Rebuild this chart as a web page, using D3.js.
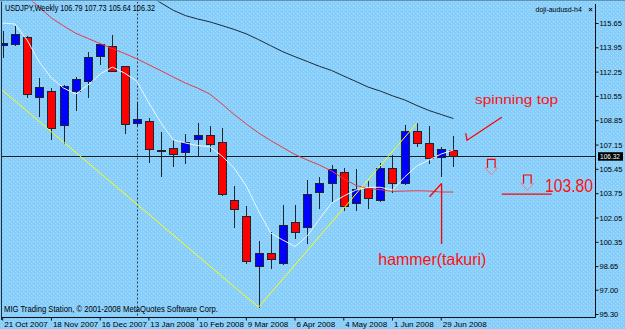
<!DOCTYPE html>
<html>
<head>
<meta charset="utf-8">
<script src="https://cdn.jsdelivr.net/npm/d3@7"></script>
<style>
  html, body { margin: 0; padding: 0; background: #87cefa; }
  svg { display: block; }
  .small { font-family: "Liberation Sans Narrow", "Liberation Sans", Arial, sans-serif; font-size: 8px; fill: #000; }
  .note { font-family: "Liberation Sans", Arial, sans-serif; fill: #ff1010; }
</style>
</head>
<body>
<div id="chart"></div>
<script>
//////////////////////////////////////////////////////////////////////////////
// Data (weekly USDJPY)

var header = "USDJPY,Weekly  106.79 107.73 105.64 106.32";
var expertName = "doji-audusd-h4";
var copyright = "MIG Trading Station, \u00a9 2001-2008 MetaQuotes Software Corp.";

var tickWeeks  = [0, 4, 8, 12, 16, 20, 24, 28, 32, 36];
var tickLabels = ["21 Oct 2007", "18 Nov 2007", "16 Dec 2007", "13 Jan 2008", "10 Feb 2008",
                  "9 Mar 2008", "6 Apr 2008", "4 May 2008", "1 Jun 2008", "29 Jun 2008"];

var priceTicks = [95.30, 97.00, 98.65, 100.35, 102.05, 103.75, 105.45,
                  107.15, 108.85, 110.55, 112.25, 113.95, 115.65];

var opens  = [114.09, 114.16, 114.65, 110.50, 110.90, 108.52, 110.90, 111.60, 113.34, 114.06,
              112.64, 108.68, 108.80, 106.80, 106.89, 106.61, 107.52, 107.82, 107.31, 103.27,
              102.15,  98.68,  99.54,  98.85, 101.71, 101.36, 103.85, 104.44, 105.25, 103.08,
              104.09, 103.27, 105.49, 104.48, 108.10, 107.24, 106.26, 106.79];
var highs  = [115.09, 115.45, 114.75, 111.78, 111.10, 111.30, 111.90, 113.64, 114.20, 114.80,
              112.64, 110.14, 108.99, 108.00, 107.47, 107.87, 108.68, 108.45, 108.29, 104.25,
              102.85, 100.43, 101.06, 102.92, 102.92, 104.67, 104.86, 105.72, 105.49, 105.44,
              104.60, 105.88, 106.42, 108.52, 108.64, 108.45, 107.00, 107.73];
var lows   = [113.29, 114.10, 110.50, 109.15, 107.54, 107.24, 109.57, 110.50, 112.78, 112.30,
              107.94, 108.50, 105.90, 104.95, 105.67, 105.88, 106.35, 106.72, 103.60, 101.40,
               98.85,  95.77,  98.50,  98.80, 100.60, 100.24, 102.69, 103.15, 102.57, 102.57,
              102.73, 103.20, 103.85, 104.39, 107.07, 105.84, 104.94, 105.64];
var closes = [114.27, 114.86, 110.68, 111.14, 108.29, 111.24, 111.73, 113.29, 114.16, 112.31,
              108.59, 108.92, 106.84, 106.78, 106.47, 107.35, 107.82, 107.17, 103.69, 102.62,
               99.01,  99.59,  99.15, 101.52, 101.01, 103.69, 104.48, 105.44, 102.87, 104.02,
              103.39, 105.53, 104.48, 108.10, 107.24, 106.19, 106.82, 106.32];

// moving averages: fast (white), medium (red), slow (dark)
var maFast = [115.65, 115.58, 114.46, 112.92, 111.80, 111.10, 110.68, 111.31, 112.08, 112.57,
              112.15, 111.59, 110.06, 108.66, 107.47, 107.26, 107.08, 107.00, 106.35, 105.51,
              104.25, 102.50, 100.96, 100.47, 100.02, 100.75, 101.94, 103.06, 103.55, 103.97,
              104.16, 104.16, 103.97, 104.88, 105.65, 106.07, 106.49, 106.77];
var maMid  = [118.94, 118.20, 117.49, 116.75, 116.00, 115.44, 114.93, 114.57, 114.21, 113.87,
              113.52, 113.15, 112.73, 112.31, 111.87, 111.45, 111.10, 110.68, 109.99, 109.25,
              108.59, 107.96, 107.43, 106.94, 106.45, 106.07, 105.72, 105.30, 104.76, 104.29,
              104.08, 103.99, 103.87, 103.90, 103.92, 103.90, 103.83, 103.83];
var maSlow = [null, null, null, null, null, null, null, null, null, null,
              118.60, 118.03, 117.54, 117.05, 116.54, 116.17, 115.93, 115.73, 115.47, 115.20,
              114.89, 114.49, 114.06, 113.64, 113.29, 112.96, 112.62, 112.33, 111.94, 111.56,
              111.17, 110.89, 110.56, 110.27, 109.88, 109.53, 109.25, 108.97];

// zigzag turning points [week, price]
var zigzag = [[-1, 111.65], [21, 95.77], [34, 108.64]];

var separatorWeek = 11;
var lastPrice = 106.32;

// hand drawn objects, anchored at [week, price]
var noteLabels = ["spinning top", "103.80", "hammer(takuri)"];
var noteWeeks  = [38.78, 44.52, 30.84];
var notePrices = [109.99, 103.85, 98.73];
var checkMark   = [[38.01, 107.94], [38.12, 107.45], [40.97, 109.06]];
var levelLine   = [[40.97, 103.69], [45.07, 103.69]];
var hammerShaft = [[36.03, 100.20], [36.03, 104.43]];
var hammerHead  = [[35.04, 103.50], [36.03, 104.43]];
var downArrows  = [[40.11, 106.12], [43.07, 105.02]];

//////////////////////////////////////////////////////////////////////////////
// Layout

var width = 625, height = 329;
var plotLeft = 1.5, plotTop = 1.5, plotRight = 595.5, plotBottom = 317.5;

var xScale = d3.scaleLinear().domain([0, 37]).range([2.7, 453.4]);
var yScale = d3.scaleLinear().domain([95.30, 115.65]).range([314, 23]);

var svg = d3.select("#chart").append("svg")
    .attr("width", width)
    .attr("height", height);

var defs = svg.append("defs");
defs.append("clipPath").attr("id", "plotClip")
    .append("rect")
    .attr("x", plotLeft).attr("y", plotTop)
    .attr("width", plotRight - plotLeft).attr("height", plotBottom - plotTop);

// dithered sky-blue background
var pat = defs.append("pattern").attr("id", "dither")
    .attr("width", 4).attr("height", 4).attr("patternUnits", "userSpaceOnUse");
pat.append("rect").attr("width", 4).attr("height", 4).attr("fill", "#87cefa");
pat.append("rect").attr("x", 1).attr("y", 1).attr("width", 1).attr("height", 1)
    .attr("fill", "#b4e0fb");
pat.append("rect").attr("x", 3).attr("y", 3).attr("width", 1).attr("height", 1)
    .attr("fill", "#a2d8fa");

svg.append("rect").attr("width", width).attr("height", height).attr("fill", "url(#dither)");

function px(v) { return Math.round(v) + 0.5; }

var plot = svg.append("g").attr("clip-path", "url(#plotClip)");

// period separator
plot.append("line")
    .attr("x1", px(xScale(separatorWeek))).attr("x2", px(xScale(separatorWeek)))
    .attr("y1", plotTop).attr("y2", plotBottom)
    .attr("stroke", "#2a3b4a").attr("stroke-width", 1)
    .attr("stroke-dasharray", "2,2");

// current price line
plot.append("line")
    .attr("x1", plotLeft).attr("x2", plotRight)
    .attr("y1", px(yScale(lastPrice))).attr("y2", px(yScale(lastPrice)))
    .attr("stroke", "#141c24").attr("stroke-width", 1);

//////////////////////////////////////////////////////////////////////////////
// Candles

var candles = opens.map(function(o, i) {
    return { i: i, O: o, H: highs[i], L: lows[i], C: closes[i] };
});

var cg = plot.append("g");

cg.selectAll("line.wick")
    .data(candles)
    .enter()
    .append("line")
    .attr("class", "wick")
    .attr("x1", function(d) { return px(xScale(d.i)); })
    .attr("x2", function(d) { return px(xScale(d.i)); })
    .attr("y1", function(d) { return Math.round(yScale(d.H)); })
    .attr("y2", function(d) { return Math.round(yScale(d.L)) + 1; })
    .attr("stroke", "#1c2630")
    .attr("stroke-width", 1);

cg.selectAll("rect.body")
    .data(candles)
    .enter()
    .append("rect")
    .attr("class", "body")
    .attr("x", function(d) { return Math.round(xScale(d.i)) - 3.5; })
    .attr("y", function(d) { return px(yScale(Math.max(d.O, d.C))); })
    .attr("width", 8)
    .attr("height", function(d) {
        return Math.max(1, Math.round(yScale(Math.min(d.O, d.C))) - Math.round(yScale(Math.max(d.O, d.C))));
    })
    .attr("fill", function(d) { return d.C >= d.O ? "#0000ff" : "#ff0000"; })
    .attr("stroke", "#1c2630")
    .attr("stroke-width", 1);

//////////////////////////////////////////////////////////////////////////////
// Indicator lines

function maLine(values) {
    return d3.line()
        .defined(function(d) { return d != null; })
        .x(function(d, i) { return xScale(i); })
        .y(function(d) { return yScale(d); })(values);
}

plot.append("path").attr("d", maLine(maSlow))
    .attr("fill", "none").attr("stroke", "#1e2b38").attr("stroke-width", 1);
plot.append("path").attr("d", maLine(maMid))
    .attr("fill", "none").attr("stroke", "#e83a40").attr("stroke-width", 1);
plot.append("path").attr("d", maLine(maFast))
    .attr("fill", "none").attr("stroke", "#eef6ff").attr("stroke-width", 1);

var ptLine = d3.line()
    .x(function(d) { return xScale(d[0]); })
    .y(function(d) { return yScale(d[1]); });

plot.append("path").attr("d", ptLine(zigzag))
    .attr("fill", "none").attr("stroke", "#ffff00").attr("stroke-width", 1);

//////////////////////////////////////////////////////////////////////////////
// Hand drawn objects

var notes = plot.append("g");
[checkMark, levelLine, hammerShaft, hammerHead].forEach(function(pts) {
    notes.append("path").attr("d", ptLine(pts))
        .attr("fill", "none").attr("stroke", "#ff0000").attr("stroke-width", 1.3);
});

// MT4 down arrow glyph, anchored at its top centre
var arrowShaft = "M -3.8 8.7 L -3.8 0 L 3.8 0 L 3.8 8.7",
    arrowHead  = "M -3.8 8.7 L -6.3 8.7 L 0 15.5 L 6.3 8.7 L 3.8 8.7";

downArrows.forEach(function(a) {
    var g = notes.append("g")
        .attr("transform", "translate(" + xScale(a[0]) + "," + yScale(a[1]) + ")");
    g.append("path").attr("d", arrowShaft)
        .attr("fill", "none").attr("stroke", "#ff0000").attr("stroke-width", 1.2);
    g.append("path").attr("d", arrowHead)
        .attr("fill", "none").attr("stroke", "#f08080").attr("stroke-width", 1);
});

var noteSizes = [13.5, 18.5, 16.5], noteLens = [83, 48, 108];
noteLabels.forEach(function(t, k) {
    notes.append("text")
        .attr("class", "note")
        .attr("x", xScale(noteWeeks[k]))
        .attr("y", yScale(notePrices[k]))
        .attr("font-size", noteSizes[k])
        .attr("textLength", noteLens[k])
        .attr("lengthAdjust", "spacingAndGlyphs")
        .text(t);
});

//////////////////////////////////////////////////////////////////////////////
// Frame and axes

var frame = svg.append("g").attr("stroke-width", 1);
frame.append("line").attr("x1", 0).attr("x2", width).attr("y1", 0.5).attr("y2", 0.5)
    .attr("stroke", "#5f93b5");
frame.append("line").attr("x1", plotLeft).attr("x2", plotLeft).attr("y1", plotTop).attr("y2", 320)
    .attr("stroke", "#1f2c38");
frame.append("line").attr("x1", plotRight).attr("x2", plotRight).attr("y1", 4).attr("y2", plotBottom)
    .attr("stroke", "#111");
frame.append("line").attr("x1", plotLeft).attr("x2", plotRight).attr("y1", plotBottom).attr("y2", plotBottom)
    .attr("stroke", "#111");

var yAxis = svg.append("g")
    .attr("class", "small")
    .attr("transform", "translate(" + plotRight + ",0)")
    .call(d3.axisRight(yScale).tickValues(priceTicks).tickSize(3).tickFormat(d3.format(".2f")));
yAxis.attr("font-family", null).attr("font-size", null);
yAxis.select(".domain").remove();
yAxis.selectAll(".tick line").attr("stroke", "#111");
yAxis.selectAll(".tick text")
    .attr("x", 4).attr("dy", "0.34em")
    .style("font-size", "7.5px");

// current price marker
var lp = svg.append("g").attr("transform", "translate(" + (plotRight + 2.5) + "," + yScale(lastPrice) + ")");
lp.append("rect").attr("x", 0).attr("y", -4.2).attr("width", 25).attr("height", 8.5).attr("fill", "#000");
lp.append("text").attr("class", "small").attr("x", 2).attr("y", 2.9)
    .attr("textLength", 20).attr("lengthAdjust", "spacingAndGlyphs")
    .style("font-size", "7.5px").style("fill", "#fff").text(d3.format(".2f")(lastPrice));

var xAxis = svg.append("g")
    .attr("class", "small")
    .attr("transform", "translate(0," + plotBottom + ")")
    .call(d3.axisBottom(xScale).tickValues(tickWeeks).tickSize(3)
        .tickFormat(function(d, k) { return tickLabels[k]; }));
xAxis.attr("font-family", null).attr("font-size", null);
xAxis.select(".domain").remove();
xAxis.selectAll(".tick line").attr("stroke", "#111").attr("transform", "translate(-0.5,0)");
xAxis.selectAll(".tick text")
    .attr("text-anchor", "start")
    .attr("x", 1).attr("y", 9).attr("dy", null)
    .style("font-size", "8px");

// texts
svg.append("text").attr("class", "small").attr("x", 5).attr("y", 11)
    .attr("textLength", 150).attr("lengthAdjust", "spacingAndGlyphs")
    .style("font-size", "9px").text(header);
svg.append("text").attr("class", "small").attr("x", 535.5).attr("y", 11.5)
    .style("font-size", "7px").text(expertName);
svg.append("text").attr("class", "small").attr("x", 588.5).attr("y", 11.5)
    .style("font-size", "7px").style("font-weight", "bold").text("\u00d7");
svg.append("text").attr("class", "small").attr("x", 4).attr("y", 312)
    .attr("textLength", 214).attr("lengthAdjust", "spacingAndGlyphs")
    .style("font-size", "9px").text(copyright);
</script>
</body>
</html>
